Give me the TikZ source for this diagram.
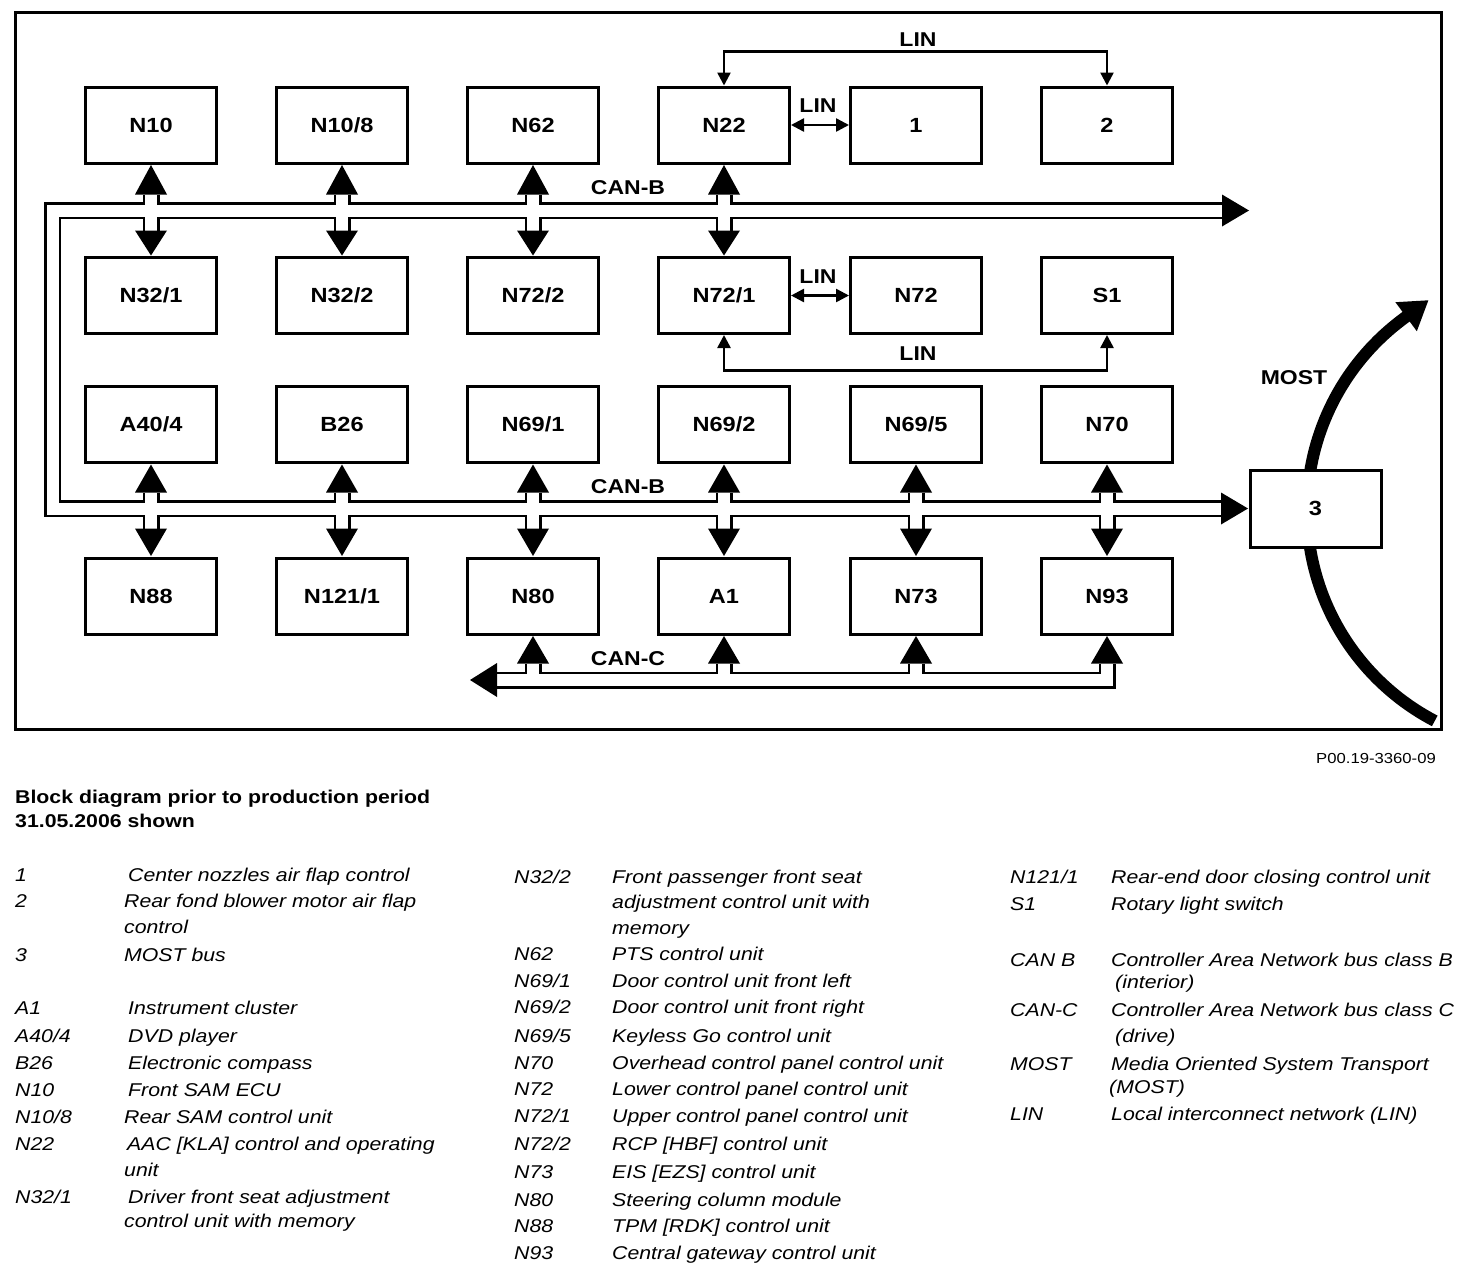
\documentclass[tikz,border=0pt]{standalone}
\usepackage{fontspec}
\setmainfont{Liberation Sans}[FakeStretch=1.15]
\usetikzlibrary{arrows.meta,calc}
\newcommand\legitem[4]{\node[key] (#1) at (#2,#3) {#4};}
\begin{document}
\begin{tikzpicture}[x=1pt,y=-1pt,
  box/.style={draw,line width=3pt,minimum width=131pt,minimum height=76pt,inner sep=0pt,fill=white,font=\bfseries\fontsize{20.5}{21}\selectfont},
  lbl/.style={inner sep=0pt,font=\bfseries\fontsize{20}{21}\selectfont},
  pipeb/.style={line width=17pt,black,line join=miter},
  pipew/.style={line width=12pt,white,line join=miter},
  linarrow/.style={line width=2.5pt,{Triangle[width=13pt,length=13pt]}-{Triangle[width=13pt,length=13pt]}},
  key/.style={anchor=base west,inner sep=0pt,font=\itshape\fontsize{18.5}{19}\selectfont},
  title/.style={anchor=base west,inner sep=0pt,font=\bfseries\fontsize{18.5}{19}\selectfont},
]
\useasboundingbox (0,0) rectangle (1472,1274);
% frame
\draw[line width=3pt] (15,12) rectangle (1441,729);

% MOST arc (drawn first, box 3 covers it)
\draw[line width=12pt,-{Triangle[width=34pt,length=28pt]}]
  plot[domain=117.6:233,samples=80] ({1545+238*cos(\x)},{510+238*sin(\x)})
  -- ({1545+240*cos(241)},{510+240*sin(241)});

% boxes
\node[box] (n10)  at (151,125) {N10};
\node[box] (n108) at (342,125) {N10/8};
\node[box] (n62)  at (533,125) {N62};
\node[box] (n22)  at (724,125) {N22};
\node[box] (one)  at (916,125) {1};
\node[box] (two)  at (1107,125) {2};
\node[box] (n321) at (151,295.5) {N32/1};
\node[box] (n322) at (342,295.5) {N32/2};
\node[box] (n722) at (533,295.5) {N72/2};
\node[box] (n721) at (724,295.5) {N72/1};
\node[box] (n72)  at (916,295.5) {N72};
\node[box] (s1)   at (1107,295.5) {S1};
\node[box] (a404) at (151,424.5) {A40/4};
\node[box] (b26)  at (342,424.5) {B26};
\node[box] (n691) at (533,424.5) {N69/1};
\node[box] (n692) at (724,424.5) {N69/2};
\node[box] (n695) at (916,424.5) {N69/5};
\node[box] (n70)  at (1107,424.5) {N70};
\node[box] (n88)  at (151,596) {N88};
\node[box] (n1211) at (342,596) {N121/1};
\node[box] (n80)  at (533,596) {N80};
\node[box] (a1)   at (724,596) {A1};
\node[box] (n73)  at (916,596) {N73};
\node[box] (n93)  at (1107,596) {N93};
\node[box,minimum width=131pt,minimum height=77pt] (three) at (1315.5,508.5) {3};

% bus coordinates
\coordinate (canbtip) at (1249,210.5);
\coordinate (canbend) at (1222,210.5);
\coordinate (canbcorner1) at (52.5,210.5);
\coordinate (canbcorner2) at (52.5,508.5);
\coordinate (canb2end) at ($(three.west)+(-27,0)$);
\coordinate (canctip) at (470,680);
\coordinate (cancend) at (497,680);

% black pass
\draw[pipeb] (canbend) -- (canbcorner1) -- (canbcorner2) -- (canb2end);
\foreach \u/\d in {n10/n321,n108/n322,n62/n722,n22/n721}
  \draw[pipeb] ($(\u.south)+(0,30)$) -- ($(\d.north)+(0,-25.5)$);
\foreach \u/\d in {a404/n88,b26/n1211,n691/n80,n692/a1,n695/n73,n70/n93}
  \draw[pipeb] ($(\u.south)+(0,28.5)$) -- ($(\d.north)+(0,-28)$);
\draw[pipeb] (cancend) -- (1107,680) -- ($(n93.south)+(0,28)$);
\foreach \c in {n80,a1,n73}
  \draw[pipeb] ($(\c.south)+(0,28)$) -- ($(\c.south)+(0,46)$);

% white pass
\draw[pipew] (canbend) -- (canbcorner1) -- (canbcorner2) -- (canb2end);
\foreach \u/\d in {n10/n321,n108/n322,n62/n722,n22/n721}
  \draw[pipew] ($(\u.south)+(0,30)$) -- ($(\d.north)+(0,-25.5)$);
\foreach \u/\d in {a404/n88,b26/n1211,n691/n80,n692/a1,n695/n73,n70/n93}
  \draw[pipew] ($(\u.south)+(0,28.5)$) -- ($(\d.north)+(0,-28)$);
\draw[pipew] (cancend) -- (1107,680) -- ($(n93.south)+(0,28)$);
\foreach \c in {n80,a1,n73}
  \draw[pipew] ($(\c.south)+(0,28)$) -- ($(\c.south)+(0,46)$);

% arrowheads
\foreach \u/\d in {n10/n321,n108/n322,n62/n722,n22/n721}{
  \fill ($(\u.south)+(0,0.5)$) -- ++(-16,29.5) -- ++(32,0) -- cycle;
  \fill ($(\d.north)+(0,-0.5)$) -- ++(-16,-25) -- ++(32,0) -- cycle;
}
\foreach \u/\d in {a404/n88,b26/n1211,n691/n80,n692/a1,n695/n73,n70/n93}{
  \fill ($(\u.south)+(0,0.5)$) -- ++(-16,28) -- ++(32,0) -- cycle;
  \fill ($(\d.north)+(0,-0.5)$) -- ++(-16,-27.5) -- ++(32,0) -- cycle;
}
\foreach \c in {n80,a1,n73,n93}
  \fill ($(\c.south)+(0,0.5)$) -- ++(-16,27.5) -- ++(32,0) -- cycle;
\fill (canbtip) -- ++(-27,-16) -- ++(0,32) -- cycle;
\fill ($(three.west)+(-0.5,0)$) -- ++(-27,-16) -- ++(0,32) -- cycle;
\fill (canctip) -- ++(27,-17) -- ++(0,34) -- cycle;

% LIN connections
\draw[linarrow] (n22.north) -- ++(0,-34) -| (two.north);
\draw[linarrow] (n22.east) -- (one.west);
\draw[linarrow] (n721.east) -- (n72.west);
\draw[linarrow] (n721.south) -- ++(0,35.5) -| (s1.south);

% bus labels
\node[lbl] (lcanb1) at (628,188) {CAN-B};
\node[lbl] (lcanb2) at (628,487) {CAN-B};
\node[lbl] (lcanc)  at (628,659) {CAN-C};
\node[lbl] (lmost)  at (1294,378) {MOST};
\node[lbl] (llin1)  at (918,40) {LIN};
\node[lbl] (llin2)  at (818,106) {LIN};
\node[lbl] (llin3)  at (818,277) {LIN};
\node[lbl] (llin4)  at (918,354) {LIN};

% reference number
\node[anchor=base east,inner sep=0pt,font=\fontsize{14.5}{15}\selectfont] (ref) at (1436,763) {P00.19-3360-09};

% title
\node[title] (t1) at (15,803) {Block diagram prior to production period};
\node[title] (t2) at (15,827) {31.05.2006 shown};

% legend column 1
\legitem{k1}{15}{881}{1}
\legitem{d1}{128}{881}{Center nozzles air flap control}
\legitem{k2}{15}{907}{2}
\legitem{d2}{124}{907}{Rear fond blower motor air flap}
\legitem{d2b}{124}{933}{control}
\legitem{k3}{15}{961}{3}
\legitem{d3}{124}{961}{MOST bus}
\legitem{k4}{15}{1014}{A1}
\legitem{d4}{128}{1014}{Instrument cluster}
\legitem{k5}{15}{1042}{A40/4}
\legitem{d5}{128}{1042}{DVD player}
\legitem{k6}{15}{1069}{B26}
\legitem{d6}{128}{1069}{Electronic compass}
\legitem{k7}{15}{1096}{N10}
\legitem{d7}{128}{1096}{Front SAM ECU}
\legitem{k8}{15}{1123}{N10/8}
\legitem{d8}{124}{1123}{Rear SAM control unit}
\legitem{k9}{15}{1150}{N22}
\legitem{d9}{127}{1150}{AAC [KLA] control and operating}
\legitem{d9b}{124}{1176}{unit}
\legitem{k10}{15}{1203}{N32/1}
\legitem{d10}{128}{1203}{Driver front seat adjustment}
\legitem{d10b}{124}{1227}{control unit with memory}

% legend column 2
\legitem{k11}{514}{883}{N32/2}
\legitem{d11}{612}{883}{Front passenger front seat}
\legitem{d11b}{612}{908}{adjustment control unit with}
\legitem{d11c}{612}{934}{memory}
\legitem{k12}{514}{960}{N62}
\legitem{d12}{612}{960}{PTS control unit}
\legitem{k13}{514}{987}{N69/1}
\legitem{d13}{612}{987}{Door control unit front left}
\legitem{k14}{514}{1013}{N69/2}
\legitem{d14}{612}{1013}{Door control unit front right}
\legitem{k15}{514}{1042}{N69/5}
\legitem{d15}{612}{1042}{Keyless Go control unit}
\legitem{k16}{514}{1069}{N70}
\legitem{d16}{612}{1069}{Overhead control panel control unit}
\legitem{k17}{514}{1095}{N72}
\legitem{d17}{612}{1095}{Lower control panel control unit}
\legitem{k18}{514}{1122}{N72/1}
\legitem{d18}{612}{1122}{Upper control panel control unit}
\legitem{k19}{514}{1150}{N72/2}
\legitem{d19}{612}{1150}{RCP [HBF] control unit}
\legitem{k20}{514}{1178}{N73}
\legitem{d20}{612}{1178}{EIS [EZS] control unit}
\legitem{k21}{514}{1206}{N80}
\legitem{d21}{612}{1206}{Steering column module}
\legitem{k22}{514}{1232}{N88}
\legitem{d22}{612}{1232}{TPM [RDK] control unit}
\legitem{k23}{514}{1259}{N93}
\legitem{d23}{612}{1259}{Central gateway control unit}

% legend column 3
\legitem{k24}{1010}{883}{N121/1}
\legitem{d24}{1111}{883}{Rear-end door closing control unit}
\legitem{k25}{1010}{910}{S1}
\legitem{d25}{1111}{910}{Rotary light switch}
\legitem{k26}{1010}{966}{CAN B}
\legitem{d26}{1111}{966}{Controller Area Network bus class B}
\legitem{d26b}{1115}{988}{(interior)}
\legitem{k27}{1010}{1016}{CAN-C}
\legitem{d27}{1111}{1016}{Controller Area Network bus class C}
\legitem{d27b}{1115}{1042}{(drive)}
\legitem{k28}{1010}{1070}{MOST}
\legitem{d28}{1111}{1070}{Media Oriented System Transport}
\legitem{d28b}{1109}{1093}{(MOST)}
\legitem{k29}{1010}{1120}{LIN}
\legitem{d29}{1111}{1120}{Local interconnect network (LIN)}
\end{tikzpicture}
\end{document}
